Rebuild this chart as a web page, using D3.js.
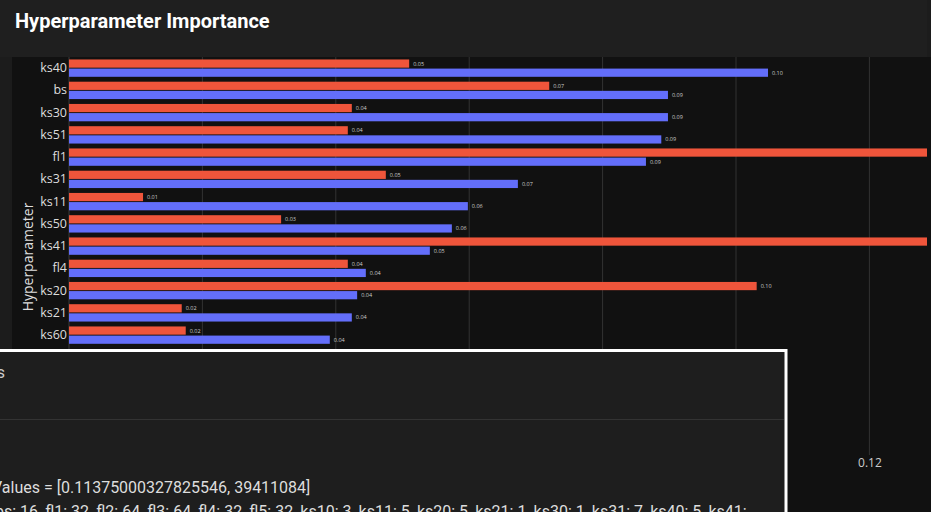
<!DOCTYPE html>
<html><head><meta charset="utf-8">
<script src="https://cdn.jsdelivr.net/npm/d3@7"></script>
<style>
html,body{margin:0;padding:0;background:#111111;overflow:hidden;}
svg{display:block;}
</style></head>
<body>
<svg id="c" width="931" height="512"></svg>
<script>
// ---- data ----
const categories = ["ks40","bs","ks30","ks51","fl1","ks31","ks11","ks50","ks41","fl4","ks20","ks21","ks60"];
const seriesNames = ["red","blue"];
const redValues  = [0.051, 0.072, 0.0424, 0.0418, 0.140, 0.0475, 0.0111, 0.0318, 0.145, 0.0418, 0.1031, 0.0169, 0.0175];
const blueValues = [0.1048, 0.0898, 0.0898, 0.0888, 0.0865, 0.0673, 0.0598, 0.0574, 0.0541, 0.0445, 0.0432, 0.0424, 0.0391];
const xTicks = [0, 0.02, 0.04, 0.06, 0.08, 0.10, 0.12];
const titleText = "Hyperparameter Importance";
const yTitle = "Hyperparameter";
const boxLine1 = "Values = [0.11375000327825546, 39411084]";
const boxLine2 = "bs: 16, fl1: 32, fl2: 64, fl3: 64, fl4: 32, fl5: 32, ks10: 3, ks11: 5, ks20: 5, ks21: 1, ks30: 1, ks31: 7, ks40: 5, ks41:";

(function(){
const colors = {red:"#ef553b", blue:"#636efa"};
const svg = d3.select("#c");

// panel backgrounds
svg.append("rect").attr("x",0).attr("y",0).attr("width",931).attr("height",512).attr("fill","#1c1c1c");
svg.append("rect").attr("x",0).attr("y",0).attr("width",927).attr("height",57).attr("fill","#1f1f1f");
svg.append("rect").attr("x",12).attr("y",57).attr("width",919).attr("height",455).attr("fill","#111111");

svg.append("text").attr("x",15).attr("y",28).text(titleText)
  .attr("font-family","Roboto").attr("font-weight","bold").attr("font-size",20).attr("fill","#ffffff");

const pL = 69, pR = 927, pT = 57;
const x = d3.scaleLinear().domain([0,0.12]).range([pL, pL + 0.12*6670]);
const y = d3.scaleBand().domain(categories).range([pT, pT + 22.25*categories.length]).paddingInner(0.22).paddingOuter(0.11);
const y1 = d3.scaleBand().domain(seriesNames).range([0, y.bandwidth()]).paddingInner(0.1);

svg.append("clipPath").attr("id","clip").append("rect").attr("x",pL).attr("y",pT).attr("width",pR-pL).attr("height",455);

// grid
const grid = svg.append("g");
grid.selectAll("line").data(xTicks).join("line")
  .attr("x1",d=>x(d)).attr("x2",d=>x(d)).attr("y1",pT).attr("y2",455)
  .attr("stroke",d=>d===0?"#3a3a3a":"#333333").attr("stroke-width",1);

// bars
const g = svg.append("g").attr("clip-path","url(#clip)");
const rows = categories.map((c,i)=>({cat:c, vals:[{s:"red",v:redValues[i]},{s:"blue",v:blueValues[i]}]}));
const grp = g.selectAll("g.row").data(rows).join("g").attr("transform",d=>`translate(0,${y(d.cat)})`);
grp.selectAll("rect").data(d=>d.vals).join("rect")
  .attr("x",x(0)).attr("y",d=>y1(d.s)).attr("height",y1.bandwidth())
  .attr("width",d=>x(d.v)-x(0)).attr("fill",d=>colors[d.s]);
grp.selectAll("text").data(d=>d.vals.filter(e=>x(e.v)+20 < pR)).join("text")
  .attr("x",d=>x(d.v)+4).attr("y",d=>y1(d.s)+y1.bandwidth()/2)
  .attr("dominant-baseline","central")
  .attr("font-family","Open Sans").attr("font-size",5.5).attr("fill","#cccccc")
  .text(d=>d3.format(".2f")(d.v));

// y axis labels
const yAxis = d3.axisLeft(y).tickSize(0).tickPadding(2);
const ya = svg.append("g").attr("transform",`translate(${pL},0)`).call(yAxis);
ya.select(".domain").remove();
ya.selectAll("text").attr("font-family","Open Sans").attr("font-size",12.5).attr("fill","#dddddd");

// y title
svg.append("text").attr("transform","translate(27,257) rotate(-90)")
  .attr("text-anchor","middle").attr("dominant-baseline","central")
  .attr("font-family","Open Sans").attr("font-size",14).attr("fill","#dddddd").text(yTitle);

// x axis tick labels
const xAxis = d3.axisBottom(x).tickValues(xTicks).tickFormat(d3.format(".2f")).tickSize(0).tickPadding(0);
const xa = svg.append("g").attr("transform",`translate(0,458)`).call(xAxis);
xa.select(".domain").remove();
xa.selectAll("text").attr("font-family","Open Sans").attr("font-size",12).attr("fill","#cccccc");

// overlay box
const box = svg.append("g");
box.append("rect").attr("x",-10).attr("y",350.5).attr("width",796).attr("height",180)
  .attr("fill","#1e1e1e").attr("stroke","#ffffff").attr("stroke-width",3);
box.append("line").attr("x1",0).attr("x2",784).attr("y1",419.5).attr("y2",419.5).attr("stroke","#333333");
box.append("text").attr("x",5).attr("y",378).attr("text-anchor","end")
  .attr("font-family","Roboto").attr("font-size",16).attr("fill","#cccccc").text("Trials");
box.append("text").attr("x",-8).attr("y",493)
  .attr("font-family","Roboto").attr("font-size",16).attr("fill","#dddddd").text(boxLine1);
box.append("text").attr("x",-5).attr("y",517)
  .attr("font-family","Roboto").attr("font-size",16).attr("fill","#dddddd").text(boxLine2);
})();
</script>
</body></html>
